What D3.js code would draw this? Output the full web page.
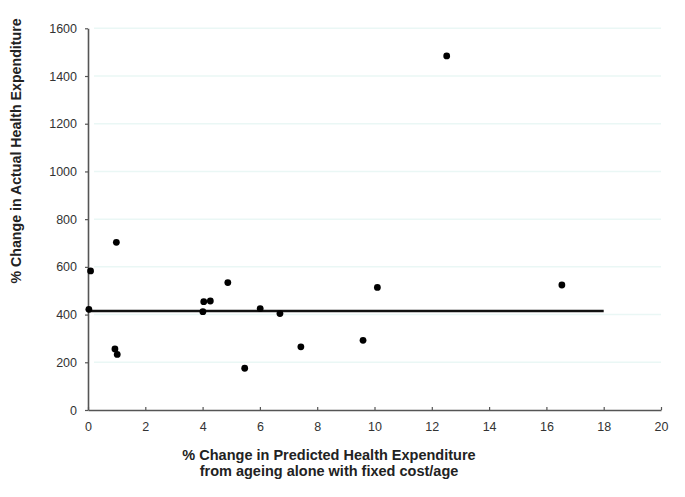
<!DOCTYPE html>
<html><head><meta charset="utf-8">
<script src="https://cdn.jsdelivr.net/npm/d3@7"></script>
<style>body{margin:0;background:#fff}svg{display:block}</style>
</head><body>
<script>
const xValues = [0.99, 0.09, 0.03, 4.88, 4.04, 4.27, 4.01, 6.01, 6.70, 7.43, 0.94, 1.02, 5.47, 10.10, 16.54, 9.60, 12.52];
const yValues = [703, 583, 422, 534, 454, 457, 412, 425, 404, 265, 256, 233, 175, 514, 524, 292, 1484];
const refLineX = [0, 18];
const refLineY = [415, 415];
const xTicks = [0, 2, 4, 6, 8, 10, 12, 14, 16, 18, 20];
const yTicks = [0, 200, 400, 600, 800, 1000, 1200, 1400, 1600];
const xTitle = ["% Change in Predicted Health Expenditure", "from ageing alone with fixed cost/age"];
const yTitle = "% Change in Actual Health Expenditure";

const W = 685, H = 497;
const svg = d3.select("body").append("svg").attr("width", W).attr("height", H);
const x = d3.scaleLinear().domain([0, 20]).range([88, 661]);
const y = d3.scaleLinear().domain([0, 1600]).range([410, 28.3]);
const font = "'Liberation Sans', Arial, sans-serif";

// gridlines
svg.append("g").selectAll("line").data(yTicks.slice(1)).join("line")
  .attr("x1", x(0) + 6).attr("x2", x(20)).attr("y1", d => y(d)).attr("y2", d => y(d))
  .attr("stroke", "#eaf7f5").attr("stroke-width", 1.5);

// axes
const xAxis = svg.append("g").attr("transform", `translate(0,${y(0)})`)
  .call(d3.axisBottom(x).tickValues(xTicks).tickFormat(d3.format("d")).tickSizeInner(-3).tickSizeOuter(0).tickPadding(12));
const yAxis = svg.append("g").attr("transform", `translate(${x(0)},0)`)
  .call(d3.axisLeft(y).tickValues(yTicks).tickFormat(d3.format("d")).tickSizeInner(3).tickSizeOuter(0).tickPadding(8));
[xAxis, yAxis].forEach(g => {
  g.select(".domain").attr("stroke", "#555").attr("stroke-width", 1.6);
  g.selectAll(".tick line").attr("stroke", "#555").attr("stroke-width", 1.2);
  g.selectAll("text").attr("font-family", font).attr("font-size", 12.5).attr("fill", "#333");
});

// reference line
svg.append("path")
  .attr("d", d3.line().x(d => x(d[0])).y(d => y(d[1]))(refLineX.map((v, i) => [v, refLineY[i]])))
  .attr("stroke", "#111").attr("stroke-width", 2.6).attr("fill", "none");

// points
svg.append("g").selectAll("circle").data(xValues.map((v, i) => [v, yValues[i]])).join("circle")
  .attr("cx", d => x(d[0])).attr("cy", d => y(d[1])).attr("r", 3.4).attr("fill", "#000");

// titles
svg.append("text").attr("font-family", font).attr("font-size", 14.5).attr("font-weight", "bold")
  .attr("fill", "#222").attr("text-anchor", "middle")
  .selectAll("tspan").data(xTitle).join("tspan")
  .attr("x", 329).attr("y", (d, i) => 460 + i * 16).text(d => d);

svg.append("text").attr("font-family", font).attr("font-size", 14.2).attr("font-weight", "bold")
  .attr("fill", "#222").attr("text-anchor", "middle")
  .attr("transform", "translate(21,151) rotate(-90)").text(yTitle);
</script>
</body></html>
